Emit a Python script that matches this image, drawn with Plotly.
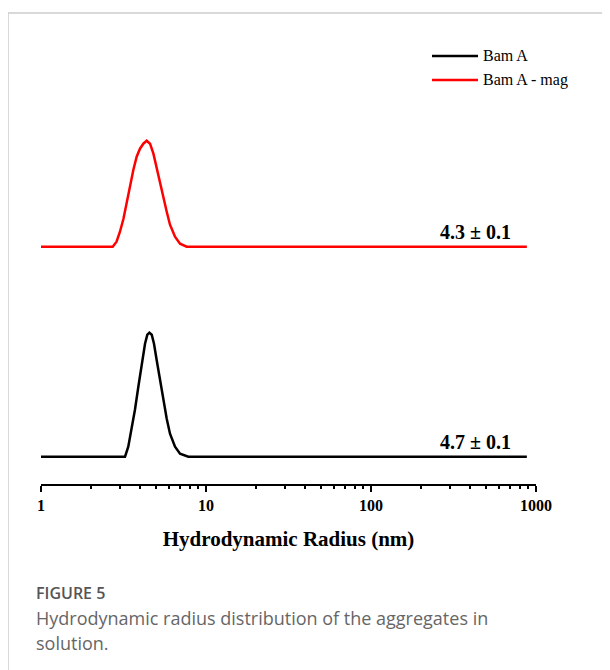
import plotly.graph_objects as go

# Hydrodynamic radius (nm) and intensity (arbitrary %)
radius_bam_a = [1.0, 3.23, 3.38, 3.54, 3.71, 3.89, 4.07, 4.27, 4.41, 4.54, 4.69, 4.84,
                5.02, 5.26, 5.51, 5.78, 6.05, 6.49, 6.96, 7.46, 7.81, 880.0]
intensity_bam_a = [0.0, 0.0, 1.0, 2.7, 4.7, 7.0, 9.3, 11.3, 12.2, 12.4, 12.2, 11.3,
                   9.7, 7.7, 5.7, 3.8, 2.3, 1.0, 0.3, 0.1, 0.0, 0.0]

radius_bam_a_mag = [1.0, 2.72, 2.87, 3.01, 3.16, 3.31, 3.46, 3.63, 3.80, 3.98, 4.17, 4.37,
                    4.58, 4.80, 5.02, 5.26, 5.51, 5.78, 6.05, 6.49, 6.96, 7.63, 880.0]
intensity_bam_a_mag = [0.0, 0.0, 0.5, 1.5, 2.8, 4.3, 6.0, 7.7, 9.0, 9.8, 10.3, 10.6,
                       10.3, 9.3, 8.0, 6.5, 5.0, 3.5, 2.2, 1.0, 0.3, 0.0, 0.0]

series_names = ["Bam A", "Bam A - mag"]
series_colors = ["black", "#ff0000"]
mean_labels = ["4.7 ± 0.1", "4.3 ± 0.1"]
tick_values = [1, 10, 100, 1000]
tick_labels = ["1", "10", "100", "1000"]

OFFSET = 21.0  # vertical stacking offset of the second curve

serif = "Liberation Serif"

# layout geometry (figure pixels; the page adds an 8px body margin)
W, H = 602, 662
ML, MR, MT, MB = 33, 74, 12, 186
PW, PH = W - ML - MR, H - MT - MB


def px(xpage):
    return (xpage - 8 - ML) / PW


def py(ypage):
    return (H - MB - (ypage - 8)) / PH


fig = go.Figure()
fig.add_trace(go.Scatter(
    x=radius_bam_a, y=intensity_bam_a, mode="lines", name=series_names[0],
    line=dict(color=series_colors[0], width=2.5)))
fig.add_trace(go.Scatter(
    x=radius_bam_a_mag, y=[v + OFFSET for v in intensity_bam_a_mag], mode="lines",
    name=series_names[1],
    line=dict(color=series_colors[1], width=2.5)))

fig.update_layout(
    width=W, height=H,
    paper_bgcolor="white", plot_bgcolor="white",
    margin=dict(l=ML, r=MR, t=MT, b=MB),
    showlegend=False,
    xaxis=dict(type="log", range=[0, 3], showgrid=False, zeroline=False,
               showline=True, linecolor="black", linewidth=2,
               ticks="outside", ticklen=6, tickwidth=1.5, tickcolor="black",
               tickvals=tick_values, ticktext=tick_labels,
               tickfont=dict(family=serif, size=16, color="black", weight="bold"),
               minor=dict(ticks="outside", ticklen=3, tickwidth=1.5, tickcolor="black",
                          dtick="D1", showgrid=False),
               title=dict(text="Hydrodynamic Radius (nm)", standoff=18,
                          font=dict(family=serif, size=21, color="black", weight="bold"))),
    yaxis=dict(range=[-2.73, 43.67], visible=False),
)

# Manual legend
for i, (name, col) in enumerate(zip(series_names, series_colors)):
    yl = 56 + 24 * i
    fig.add_shape(type="line", xref="paper", yref="paper",
                  x0=px(432), x1=px(478), y0=py(yl), y1=py(yl),
                  line=dict(color=col, width=2.5))
    fig.add_annotation(x=px(481), y=py(yl), xref="paper", yref="paper", text=name,
                       showarrow=False, xanchor="left", yanchor="middle",
                       font=dict(family=serif, size=16, color="black"))

# Mean value labels
for lab, base in zip(mean_labels, [0, OFFSET]):
    fig.add_annotation(x=px(513), y=base, xref="paper", yref="y", text=lab,
                       showarrow=False, xanchor="right", yanchor="bottom", yshift=2,
                       font=dict(family=serif, size=20, color="black", weight="bold"))

# Figure frame lines (page decoration)
fig.add_shape(type="line", xref="paper", yref="paper",
              x0=px(8), x1=px(640), y0=py(13), y1=py(13),
              line=dict(color="#cccccc", width=1.5))
fig.add_shape(type="line", xref="paper", yref="paper",
              x0=px(8), x1=px(8), y0=py(13), y1=py(700),
              line=dict(color="#cccccc", width=1.5))

# Caption
cap_font = "Open Sans"
fig.add_annotation(x=px(34), y=py(593), xref="paper", yref="paper",
                   text="FIGURE 5", showarrow=False, xanchor="left", yanchor="middle",
                   font=dict(family=cap_font, size=16, color="#555555", weight=600))
fig.add_annotation(x=px(34), y=py(618), xref="paper", yref="paper",
                   text="Hydrodynamic radius distribution of the aggregates in",
                   showarrow=False, xanchor="left", yanchor="middle",
                   font=dict(family=cap_font, size=18, color="#666666"))
fig.add_annotation(x=px(34), y=py(643), xref="paper", yref="paper",
                   text="solution.", showarrow=False, xanchor="left", yanchor="middle",
                   font=dict(family=cap_font, size=18, color="#666666"))

fig.write_html("out.html")
